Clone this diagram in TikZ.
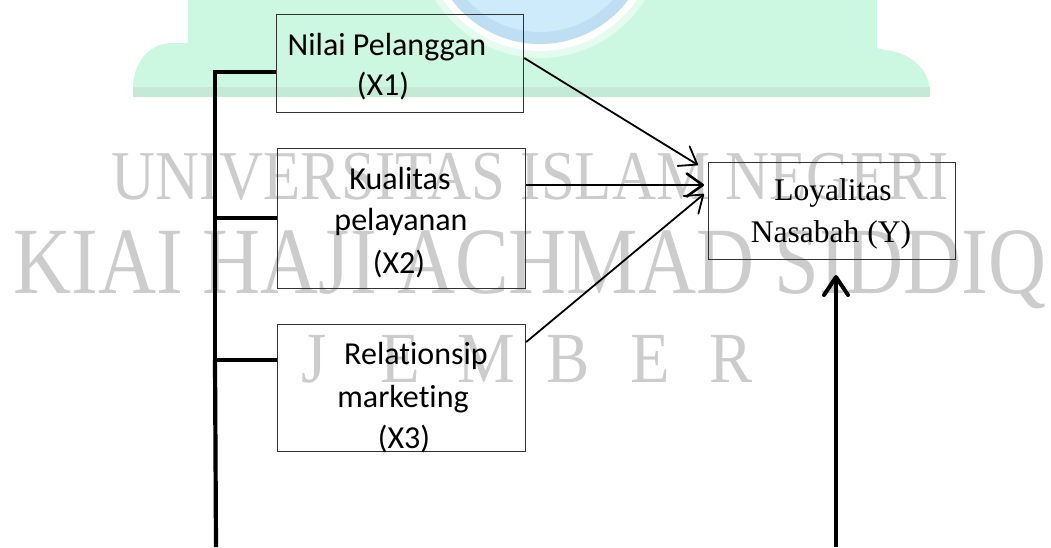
\documentclass[tikz,border=0pt]{standalone}
\usepackage{fontspec}
\setmainfont{Liberation Serif}
\newfontfamily\calfont[Ligatures={NoCommon,NoRare,NoContextual}]{Carlito}
\usetikzlibrary{arrows.meta,calc}
\definecolor{wmgreen}{RGB}{204,247,224}
\definecolor{wmband}{RGB}{196,234,213}
\definecolor{wmpale}{RGB}{228,251,240}
\definecolor{wmblue}{RGB}{206,235,252}
\definecolor{wmbluedark}{RGB}{190,222,244}
\definecolor{wmgray}{RGB}{204,204,204}
\definecolor{boxline}{RGB}{50,50,50}
\tikzset{
  box/.style={draw=boxline, line width=1.2pt, inner sep=0pt, anchor=north west},
  cal/.style={font=\calfont\fontsize{32}{38}\selectfont, inner sep=0pt, anchor=base},
  tms/.style={font=\fontsize{31.5}{36}\selectfont, inner sep=0pt, anchor=base},
  wm/.style={text=wmgray, inner sep=0pt, anchor=base},
  arr/.style={-{Straight Barb[length=16pt,width=23pt,round]}, line width=1.8pt},
  bus/.style={line width=3.3pt, line join=miter},
}
\begin{document}
\begin{tikzpicture}[x=1pt,y=-1pt]
\useasboundingbox (0,0) rectangle (1051,547);
% ---- watermark ----
\fill[wmgreen] (133,97) -- (133,88) .. controls (133,62) and (150,43) .. (172,43)
  -- (188,43) -- (188,0) -- (877,0) -- (877,48) -- (885,50)
  .. controls (910,52) and (930,70) .. (930,92) -- (930,97) -- cycle;
\fill[wmband] (133,87) rectangle (930,97);
\fill[wmpale] (540,-66) circle (124pt);
\fill[white] (540,-66) circle (117pt);
\fill[wmbluedark] (540,-66) circle (110pt);
\fill[wmblue] (540,-66) circle (98pt);
\node[wm, font=\fontsize{70}{70}\selectfont, xscale=0.87] (wm1) at (530,199) {UNIVERSITAS ISLAM NEGERI};
\node[wm, font=\fontsize{95}{95}\selectfont, xscale=0.846] (wm2) at (530,293) {KIAI HAJI ACHMAD SIDDIQ};
\foreach \l/\xx [count=\i] in {J/314,E/400,M/486,B/568,E/650,R/731}
  \node[wm, font=\fontsize{72}{72}\selectfont, xscale=0.9] (wmj\i) at (\xx,382) {\l};
% ---- boxes ----
\node[box, minimum width=247pt, minimum height=98pt] (x1) at (276,14) {};
\node[box, minimum width=248pt, minimum height=140pt] (x2) at (277,148) {};
\node[box, minimum width=248pt, minimum height=127pt] (x3) at (277,324) {};
\node[box, minimum width=247pt, minimum height=97pt] (y) at (708,162) {};
% ---- texts ----
\node[cal] (x1a) at (387,55) {Nilai Pelanggan};
\node[cal] (x1b) at (383,95) {(X1)};
\node[cal] (x2a) at (400,189) {Kualitas};
\node[cal] (x2b) at (401,230) {pelayanan};
\node[cal] (x2c) at (399,273) {(X2)};
\node[cal] (x3a) at (416,364) {Relat\kern0pt ionsip};
\node[cal] (x3b) at (403,407) {market\kern0pt ing};
\node[cal] (x3c) at (404,448) {(X3)};
\node[tms] (ya) at (833,200) {Loyalitas};
\node[tms] (yb) at (831,242) {Nasabah (Y)};
% ---- connectors ----
\coordinate (t1) at (698,165);
\coordinate (t2) at (704,185);
\coordinate (t3) at (704,194);
\draw[arr] ($(x1.north east)+(0,44)$) -- (t1);
\draw[arr, line width=2.6pt] ($(x2.north east)+(0,37)$) -- (t2);
\draw[arr] ($(x3.north east)+(0,18)$) -- (t3);
\coordinate (b1) at (215,72);
\coordinate (b2) at (215,218);
\coordinate (b3) at (215,360);
\coordinate (b4) at (216,547);
\draw[bus] (x1.west |- b1) -- (b1) -- (b3);
\draw[line width=4.5pt] (b2) -- (x2.west |- b2);
\draw[line width=3.5pt] (b3) -- (x3.west |- b3);
\draw[line width=4.2pt] (b3) -- (b4);
\coordinate (r0) at (836,547);
\coordinate (r1) at (836,275);
\draw[line width=4pt, -{Straight Barb[length=18pt,width=24pt,round]}] (r0) -- (r1);
\end{tikzpicture}
\end{document}
